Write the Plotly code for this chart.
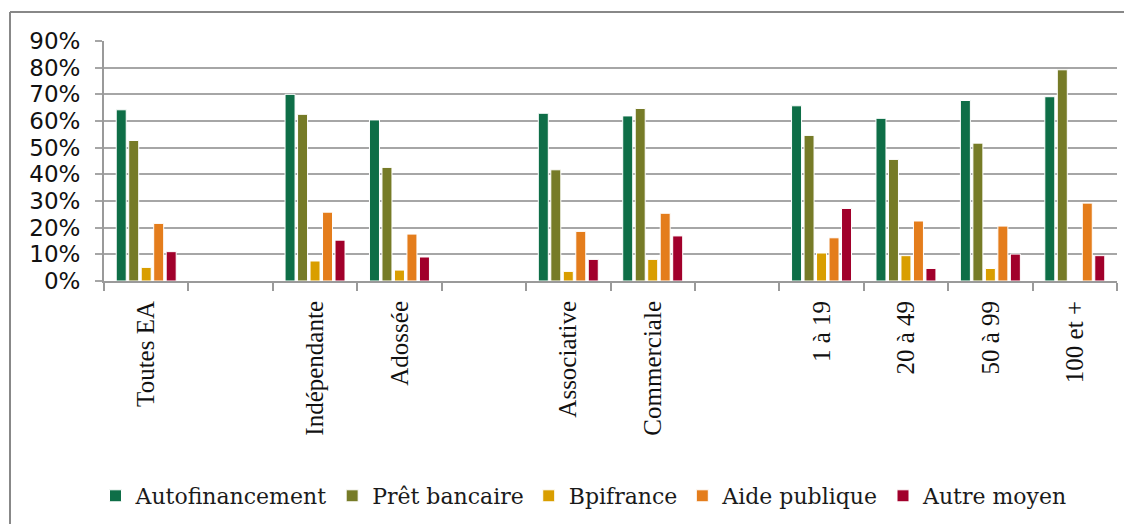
import plotly.graph_objects as go

# slots vides = espaces de longueur differente (categories uniques)
categories = ["Toutes EA", " ", "Indépendante", "Adossée", "  ", "Associative",
              "Commerciale", "   ", "1 à 19", "20 à 49", "50 à 99", "100 et +"]

autofinancement = [0.642, None, 0.700, 0.604, None, 0.629, 0.619, None, 0.657, 0.610, 0.677, 0.691]
pret_bancaire = [0.527, None, 0.625, 0.426, None, 0.417, 0.647, None, 0.546, 0.456, 0.517, 0.792]
bpifrance = [0.051, None, 0.075, 0.041, None, 0.036, 0.081, None, 0.105, 0.095, 0.047, None]
aide_publique = [0.216, None, 0.258, 0.176, None, 0.186, 0.254, None, 0.162, 0.225, 0.206, 0.292]
autre_moyen = [0.110, None, 0.153, 0.090, None, 0.081, 0.169, None, 0.272, 0.047, 0.101, 0.095]

series = [
    ("Autofinancement", autofinancement, "#0e6e47"),
    ("Prêt bancaire", pret_bancaire, "#767b27"),
    ("Bpifrance", bpifrance, "#d99e00"),
    ("Aide publique", aide_publique, "#e47d1c"),
    ("Autre moyen", autre_moyen, "#a1002b"),
]

fig = go.Figure()
for nom, valeurs, couleur in series:
    fig.add_trace(go.Bar(x=categories, y=valeurs, name=nom,
                         marker=dict(color=couleur, line=dict(color="white", width=1))))

# la page a une marge de 8px : on decale tout de 8px (et pas de scroll)
OFF = 8
W, H = 1132 - 2 * OFF, 532 - 2 * OFF
L, T = 104 - OFF, 41 - OFF
R = W - (1117 - OFF)
B = H - (281 - OFF)
pw, ph = W - L - R, H - T - B
base = H - B  # ordonnee pixel de l'axe des x

# cadre du graphique (bords haut et gauche seulement visibles)
bx = (10 - OFF - L) / pw
by_top = (base - (12 - OFF)) / ph
by_bot = (base - H) / ph
bx_right = (W - L) / pw
cadre = dict(color="#888888", width=2)

fig.update_layout(
    width=W, height=H,
    margin=dict(l=L, r=R, t=T, b=B, autoexpand=False),
    paper_bgcolor="white", plot_bgcolor="white",
    barmode="group", bargap=0.26, bargroupgap=0.2,
    showlegend=True,
    legend=dict(orientation="h", x=(584 - OFF - L) / pw, xanchor="center",
                y=(base - (496 - OFF)) / ph, yanchor="middle",
                font=dict(family="DejaVu Serif", size=22, color="#1a1a1a"),
                itemclick=False),
    xaxis=dict(type="category", tickson="boundaries", ticks="outside", ticklen=8,
               tickcolor="#9a9a9a", tickwidth=1.5, showline=True, linecolor="#9a9a9a",
               linewidth=2, tickangle=-90, showgrid=False, automargin=False,
               tickfont=dict(family="Liberation Serif", size=25, color="#111"),
               ticklabelstandoff=8),
    yaxis=dict(range=[0, 0.9], dtick=0.1, tickformat=".0%", showgrid=True,
               gridcolor="#a6a6a6", gridwidth=2, showline=True, linecolor="#9a9a9a",
               linewidth=2, ticks="outside", ticklen=7, tickcolor="#a6a6a6",
               tickwidth=2, zeroline=False, ticklabelstandoff=10, automargin=False,
               tickfont=dict(family="DejaVu Sans", size=23, color="#111")),
    shapes=[
        dict(type="line", xref="paper", yref="paper", x0=bx, x1=bx_right,
             y0=by_top, y1=by_top, line=cadre, layer="below"),
        dict(type="line", xref="paper", yref="paper", x0=bx, x1=bx,
             y0=by_bot, y1=by_top, line=cadre, layer="below"),
    ],
)

fig.write_html("out.html")
